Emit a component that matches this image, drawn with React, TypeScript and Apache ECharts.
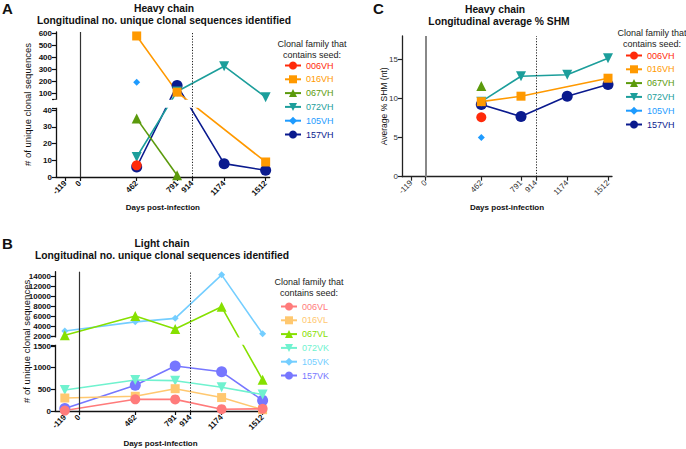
import React, { useEffect, useRef } from 'react';
import * as echarts from 'echarts';

// ---------- data ----------
const dayTicks = [-119, 0, 462, 791, 914, 1174, 1512];
const refLines = [0, 914];

const heavyFamilies = ['006VH', '016VH', '067VH', '072VH', '105VH', '157VH'];
const lightFamilies = ['006VL', '016VL', '067VL', '072VK', '105VK', '157VK'];

// Panel A: heavy chain, no. unique clonal sequences  [day, count]
const heavyCount006 = [[462, 7]];
const heavyCount016 = [[462, 580], [791, 112], [1512, 9]];
const heavyCount067 = [[462, 35], [791, 1]];
const heavyCount072 = [[462, 12], [791, 118], [1174, 328], [1512, 70]];
const heavyCount105 = [[462, 195]];
const heavyCount157 = [[462, 6], [791, 168], [1174, 8], [1512, 4]];

// Panel B: light chain, no. unique clonal sequences  [day, count]
const lightCount006 = [[-119, 10], [462, 270], [791, 268], [1174, 42], [1512, 50]];
const lightCount016 = [[-119, 300], [462, 340], [791, 515], [1174, 310], [1512, 30]];
const lightCount067 = [[-119, 2150], [462, 6000], [791, 3400], [1174, 7850], [1512, 720]];
const lightCount072 = [[-119, 485], [462, 715], [791, 700], [1174, 550], [1512, 380]];
const lightCount105 = [[-119, 3000], [462, 4850], [791, 5550], [1174, 14250], [1512, 2450]];
const lightCount157 = [[-119, 60], [462, 595], [791, 1040], [1174, 905], [1512, 245]];

// Panel C: heavy chain, average % SHM  [day, %]
const heavyShm006 = [[462, 7.6]];
const heavyShm016 = [[462, 9.6], [791, 10.3], [1512, 12.6]];
const heavyShm067 = [[462, 11.6]];
const heavyShm072 = [[462, 9.6], [791, 12.85], [1174, 13.05], [1512, 15.15]];
const heavyShm105 = [[462, 5.0]];
const heavyShm157 = [[462, 9.25], [791, 7.7], [1174, 10.3], [1512, 11.8]];

// tick labels
const yTicksA = [0, 10, 20, 30, 40, 100, 200, 300, 400, 500, 600];
const yTicksB = [0, 500, 1000, 1500, 2000, 4000, 6000, 8000, 10000, 12000, 14000];
const yTicksC = [0, 5, 10, 15];

// ---------- styles ----------
const FONT = '"Liberation Sans", Arial, Helvetica, sans-serif';
const heavyColors = ['#FF2A0A', '#FF9900', '#5B9A0C', '#1C9E9B', '#1E9BFF', '#0A1A8E'];
const lightColors = ['#FF7B7B', '#FFC870', '#86E000', '#70F2CF', '#74CEFF', '#7777FF'];
const symbols = ['circle', 'rect', 'triangle', 'triangle', 'diamond', 'circle'];
const symbolRot = [0, 0, 0, 180, 0, 0];
const symbolSizes = [10, 9, 10, 10, 7, 11];

// broken axis scales (display units = pixels from bottom)
type Brk = { L: number; U: number; a: number; gap: number; b: number; top: number };
const brkA: Brk = { L: 41, U: 55, a: 66.7 / 40, gap: 9.6, b: 0.12, top: 613 };
const brkB: Brk = { L: 1510, U: 1880, a: 21.67 / 500, gap: 8.9, b: 0.005, top: 14880 };

function fwd(v: number, k: Brk | null) {
  if (!k) return v;
  const lt = k.L * k.a;
  if (v <= k.L) return v * k.a;
  if (v >= k.U) return lt + k.gap + (v - k.U) * k.b;
  return lt + ((v - k.L) / (k.U - k.L)) * k.gap;
}
function inv(d: number, k: Brk | null) {
  if (!k) return d;
  const lt = k.L * k.a;
  if (d <= lt) return d / k.a;
  if (d >= lt + k.gap) return k.U + (d - lt - k.gap) / k.b;
  return k.L + ((d - lt) / k.gap) * (k.U - k.L);
}

type Panel = {
  grid: { left: number; top: number; width: number; height: number };
  xMin: number; xMax: number;
  brk: Brk | null; yMax: number;
  yTicks: number[]; yName: string; yNameGap: number; yNameSize: number;
  xNameGap: number;
  families: string[]; colors: string[]; data: number[][][];
  bold: boolean; axisColor: string; zeroColor: string; zeroWidth: number;
  legendLeft: number; legendTop: number;
};

const panels: Panel[] = [
  {
    grid: { left: 56, top: 32, width: 213.7, height: 145 }, xMin: -195, xMax: 1545,
    brk: brkA, yMax: fwd(brkA.top, brkA), yTicks: yTicksA,
    yName: '# of unique clonal sequences', yNameGap: 24, yNameSize: 9.5, xNameGap: 26.5,
    families: heavyFamilies, colors: heavyColors,
    data: [heavyCount006, heavyCount016, heavyCount067, heavyCount072, heavyCount105, heavyCount157],
    bold: true, axisColor: '#111', zeroColor: '#333', zeroWidth: 1.2, legendLeft: 284, legendTop: 61,
  },
  {
    grid: { left: 55, top: 271.7, width: 211, height: 139.3 }, xMin: -200, xMax: 1540,
    brk: brkB, yMax: fwd(brkB.top, brkB), yTicks: yTicksB,
    yName: '# of unique clonal sequences', yNameGap: 24, yNameSize: 9.5, xNameGap: 28.5,
    families: lightFamilies, colors: lightColors,
    data: [lightCount006, lightCount016, lightCount067, lightCount072, lightCount105, lightCount157],
    bold: true, axisColor: '#111', zeroColor: '#333', zeroWidth: 1.2, legendLeft: 280, legendTop: 302,
  },
  {
    grid: { left: 402, top: 36, width: 210, height: 140.7 }, xMin: -195, xMax: 1545,
    brk: null, yMax: 18, yTicks: yTicksC,
    yName: 'Average % SHM (nt)', yNameGap: 14, yNameSize: 8.5, xNameGap: 27,
    families: heavyFamilies, colors: heavyColors,
    data: [heavyShm006, heavyShm016, heavyShm067, heavyShm072, heavyShm105, heavyShm157],
    bold: false, axisColor: '#222', zeroColor: '#888', zeroWidth: 2, legendLeft: 625, legendTop: 51,
  },
];

function buildOption() {
  const grid: any[] = [];
  const xAxis: any[] = [];
  const yAxis: any[] = [];
  const series: any[] = [];
  const legend: any[] = [];

  panels.forEach((p, gi) => {
    grid.push({ ...p.grid, containLabel: false, outerBoundsMode: 'none' });
    const labelStyle = {
      fontSize: 8, fontFamily: FONT, fontWeight: p.bold ? 'bold' : 'normal',
      color: p.bold ? '#111' : '#333',
    };
    xAxis.push({
      type: 'value', gridIndex: gi, min: p.xMin, max: p.xMax,
      axisLine: { show: true, onZero: false, lineStyle: { color: p.axisColor, width: 1.3 } },
      axisTick: { show: true, customValues: dayTicks, length: 4, lineStyle: { color: p.axisColor, width: 1.2 } },
      axisLabel: { customValues: dayTicks, rotate: 45, margin: 5, ...labelStyle, formatter: (v: number) => String(v) },
      splitLine: { show: false },
      name: 'Days post-infection', nameLocation: 'middle', nameGap: p.xNameGap, nameMoveOverlap: false,
      nameTextStyle: { fontSize: 8, fontWeight: 'bold', fontFamily: FONT, color: '#111' },
    });
    const brk = p.brk;
    const labelVals = p.yTicks.map((v) => fwd(v, brk));
    const tickVals = brk ? [...labelVals, fwd(brk.L, brk), fwd(brk.U, brk)] : labelVals;
    yAxis.push({
      type: 'value', gridIndex: gi, min: 0, max: p.yMax,
      axisLine: { show: true, onZero: false, lineStyle: { color: p.axisColor, width: 1.3 } },
      axisTick: { show: true, customValues: tickVals, length: 4, lineStyle: { color: p.axisColor, width: 1.2 } },
      axisLabel: {
        customValues: labelVals, margin: 4, ...labelStyle,
        formatter: (v: number) => String(Math.round(inv(v, brk))),
      },
      splitLine: { show: false },
      name: p.yName, nameLocation: 'middle', nameGap: p.yNameGap, nameRotate: 90, nameMoveOverlap: false,
      nameTextStyle: { fontSize: p.yNameSize, fontFamily: FONT, color: '#111' },
    });

    // draw first family on top -> push in reverse order
    const order = p.families.map((_, i) => i).reverse();
    order.forEach((i) => {
      const name = p.families[i];
      const color = p.colors[i];
      const pts = p.data[i].map(([d, v]) => [d, fwd(v, brk)]);
      series.push({
        type: 'line', name, xAxisIndex: gi, yAxisIndex: gi, data: pts,
        showSymbol: false, symbol: symbols[i], symbolRotate: symbolRot[i], symbolSize: symbolSizes[i],
        lineStyle: { color, width: 1.6 }, itemStyle: { color }, z: 2, silent: true,
      });
      series.push({
        type: 'scatter', name, xAxisIndex: gi, yAxisIndex: gi, data: pts,
        symbol: symbols[i], symbolRotate: symbolRot[i], symbolSize: symbolSizes[i],
        itemStyle: { color, opacity: 1 }, z: 4, silent: true,
      });
    });
    // reference lines (day 0 and day 914)
    series.push({
      type: 'line', name: 'ref' + gi, xAxisIndex: gi, yAxisIndex: gi,
      data: [[refLines[0], 0]], showSymbol: false, lineStyle: { width: 0 }, silent: true, z: 1,
      markLine: {
        silent: true, symbol: 'none', z: 5, label: { show: false },
        data: [
          { xAxis: refLines[0], lineStyle: { color: p.zeroColor, width: p.zeroWidth, type: 'solid' } },
          { xAxis: refLines[1], lineStyle: { color: '#222', width: 1, type: [1.2, 1.6] } },
        ],
      },
    });

    legend.push({
      data: p.families.map((n, i) => ({ name: n, textStyle: { color: p.colors[i] } })),
      orient: 'vertical', left: p.legendLeft, top: p.legendTop, padding: 0,
      itemWidth: 16, itemHeight: 10, itemGap: 4.8, selectedMode: false,
      textStyle: { fontSize: 9, fontFamily: FONT },
    });
  });

  return { animation: false, backgroundColor: '#fff', grid, xAxis, yAxis, series, legend };
}

function txt(text: string, x: number, y: number, size: number, weight: string, align = 'center', color = '#111') {
  return {
    type: 'text', x, y, z: 6, silent: true,
    style: { text, fontSize: size, fontWeight: weight, fontFamily: FONT, fill: color, textAlign: align, textVerticalAlign: 'middle' },
  };
}

const texts = [
  txt('A', 2, 8, 15, 'bold', 'left'),
  txt('Heavy chain', 164, 8, 10.3, 'bold'),
  txt('Longitudinal no. unique clonal sequences identified', 164, 20, 10.3, 'bold'),
  txt('Clonal family that', 312, 44, 9, 'normal', 'center', '#222'),
  txt('contains seed:', 312, 55, 9, 'normal', 'center', '#222'),
  txt('B', 2, 243, 15, 'bold', 'left'),
  txt('Light chain', 162, 243, 10.3, 'bold'),
  txt('Longitudinal no. unique clonal sequences identified', 162, 255, 10.3, 'bold'),
  txt('Clonal family that', 309, 282, 9, 'normal', 'center', '#222'),
  txt('contains seed:', 309, 292.5, 9, 'normal', 'center', '#222'),
  txt('C', 373, 8, 15, 'bold', 'left'),
  txt('Heavy chain', 495, 9, 10.3, 'bold'),
  txt('Longitudinal average % SHM', 499, 21, 10.3, 'bold'),
  txt('Clonal family that', 652, 33, 9, 'normal', 'center', '#222'),
  txt('contains seed:', 652, 44, 9, 'normal', 'center', '#222'),
];

export default function App() {
  const ref = useRef<HTMLDivElement>(null);
  useEffect(() => {
    const chart = echarts.init(ref.current!, null, { renderer: 'svg' });
    chart.setOption(buildOption());
    const rects: any[] = [];
    panels.forEach((p, gi) => {
      const k = p.brk;
      if (!k) return;
      const yL = chart.convertToPixel({ yAxisIndex: gi }, fwd(k.L, k)) as number;
      const yU = chart.convertToPixel({ yAxisIndex: gi }, fwd(k.U, k)) as number;
      const xl = chart.convertToPixel({ xAxisIndex: gi }, p.xMin) as number;
      const xr = chart.convertToPixel({ xAxisIndex: gi }, p.xMax) as number;
      rects.push({
        type: 'rect', z: 3, silent: true,
        shape: { x: xl - 2, y: yU + 0.8, width: xr - xl + 4, height: yL - yU - 1.6 },
        style: { fill: '#ffffff' },
      });
    });
    chart.setOption({ graphic: { elements: [...rects, ...texts] } });
    return () => chart.dispose();
  }, []);
  return <div ref={ref} style={{ width: 686, height: 449, position: 'absolute', left: 0, top: 0 }} />;
}
